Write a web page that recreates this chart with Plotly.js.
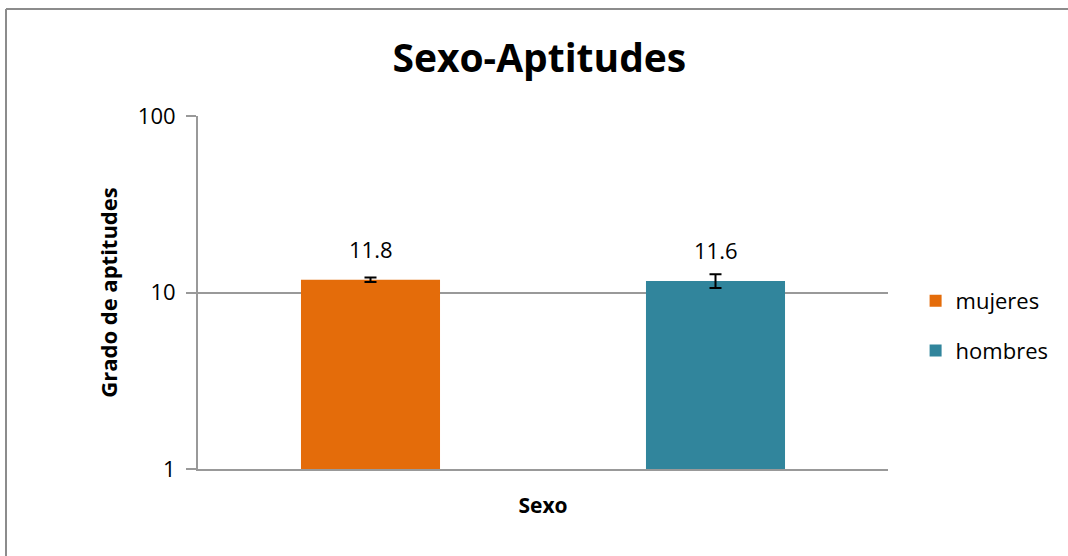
<!DOCTYPE html>
<html>
<head>
<meta charset="utf-8">
<script src="https://cdn.plot.ly/plotly-3.0.1.min.js"></script>
<style>
html,body{margin:0;padding:0;background:#fff;overflow:hidden;}
#chart{width:1068px;height:556px;}
</style>
</head>
<body>
<div id="chart"></div>
<script>
const categories = ['mujeres', 'hombres'];
const seriesNames = ['mujeres', 'hombres'];
const values = [11.8, 11.6];
const errPlus = [0.35, 1.1];
const errMinus = [0.35, 1.0];
const labels = ['11.8', '11.6'];
const colors = ['#E46C0A', '#31859C'];
const yTicks = [1, 10, 100];
const yTickText = ['1', '10', '100'];

const FONT = 'Open Sans, Noto Sans, sans-serif';

const traces = seriesNames.map((name, i) => ({
  type: 'bar',
  name: name,
  legendgroup: 'g' + i,
  x: [categories[i]],
  y: [values[i]],
  marker: {color: colors[i]},
  error_y: {type: 'data', symmetric: false, array: [errPlus[i]], arrayminus: [errMinus[i]], color: '#000', thickness: 2, width: 6},
  hoverinfo: 'none'
}));

const annotations = categories.map((c, i) => ({
  x: c, y: Math.log10(values[i]), xref: 'x', yref: 'y',
  text: labels[i], showarrow: false, yanchor: 'bottom', yshift: 14,
  font: {family: FONT, size: 22, color: '#000'}
}));

// chart-area frame (left and top edges visible)
const L = 198, T = 116, W = 690, H = 353;
const fx = (6 - L) / W, fy = (H + T - 9) / H;
const shapes = [
  {type: 'line', xref: 'paper', yref: 'paper', x0: fx, x1: fx, y0: fy, y1: -0.3, line: {color: '#8c8c8c', width: 2}},
  {type: 'line', xref: 'paper', yref: 'paper', x0: fx, x1: 1.3, y0: fy, y1: fy, line: {color: '#8c8c8c', width: 2}}
];

const layout = {
  width: 1068, height: 556,
  margin: {l: 198, r: 180, t: 116, b: 87},
  paper_bgcolor: '#fff', plot_bgcolor: '#fff',
  title: {text: '<b>Sexo-Aptitudes</b>', font: {family: FONT, size: 39, color: '#000'}, x: 0.505, xanchor: 'center', y: 0.895, yanchor: 'middle'},
  barmode: 'overlay',
  bargap: 0.597,
  showlegend: true,
  legend: {x: 1.04, xanchor: 'left', y: 0.405, yanchor: 'middle', font: {family: FONT, size: 22, color: '#000'}, tracegroupgap: 18, itemwidth: 30},
  xaxis: {
    type: 'category', showticklabels: false, ticks: '', showgrid: false,
    showline: true, linecolor: '#999', linewidth: 2,
    title: {text: '<b>Sexo</b>', font: {family: FONT, size: 21, color: '#000'}, standoff: 28}
  },
  yaxis: {
    type: 'log', range: [0, 2], tickvals: yTicks, ticktext: yTickText,
    ticks: 'outside', ticklen: 10, tickcolor: '#999', tickwidth: 2,
    ticklabelstandoff: 6,
    showline: true, linecolor: '#999', linewidth: 2,
    showgrid: true, gridcolor: '#999', gridwidth: 2, zeroline: false,
    tickfont: {family: FONT, size: 22, color: '#000'},
    title: {text: '<b>Grado de aptitudes</b>', font: {family: FONT, size: 22, color: '#000'}, standoff: 14}
  },
  shapes: shapes,
  annotations: annotations
};

Plotly.newPlot('chart', traces, layout, {staticPlot: true, displayModeBar: false});
</script>
</body>
</html>
